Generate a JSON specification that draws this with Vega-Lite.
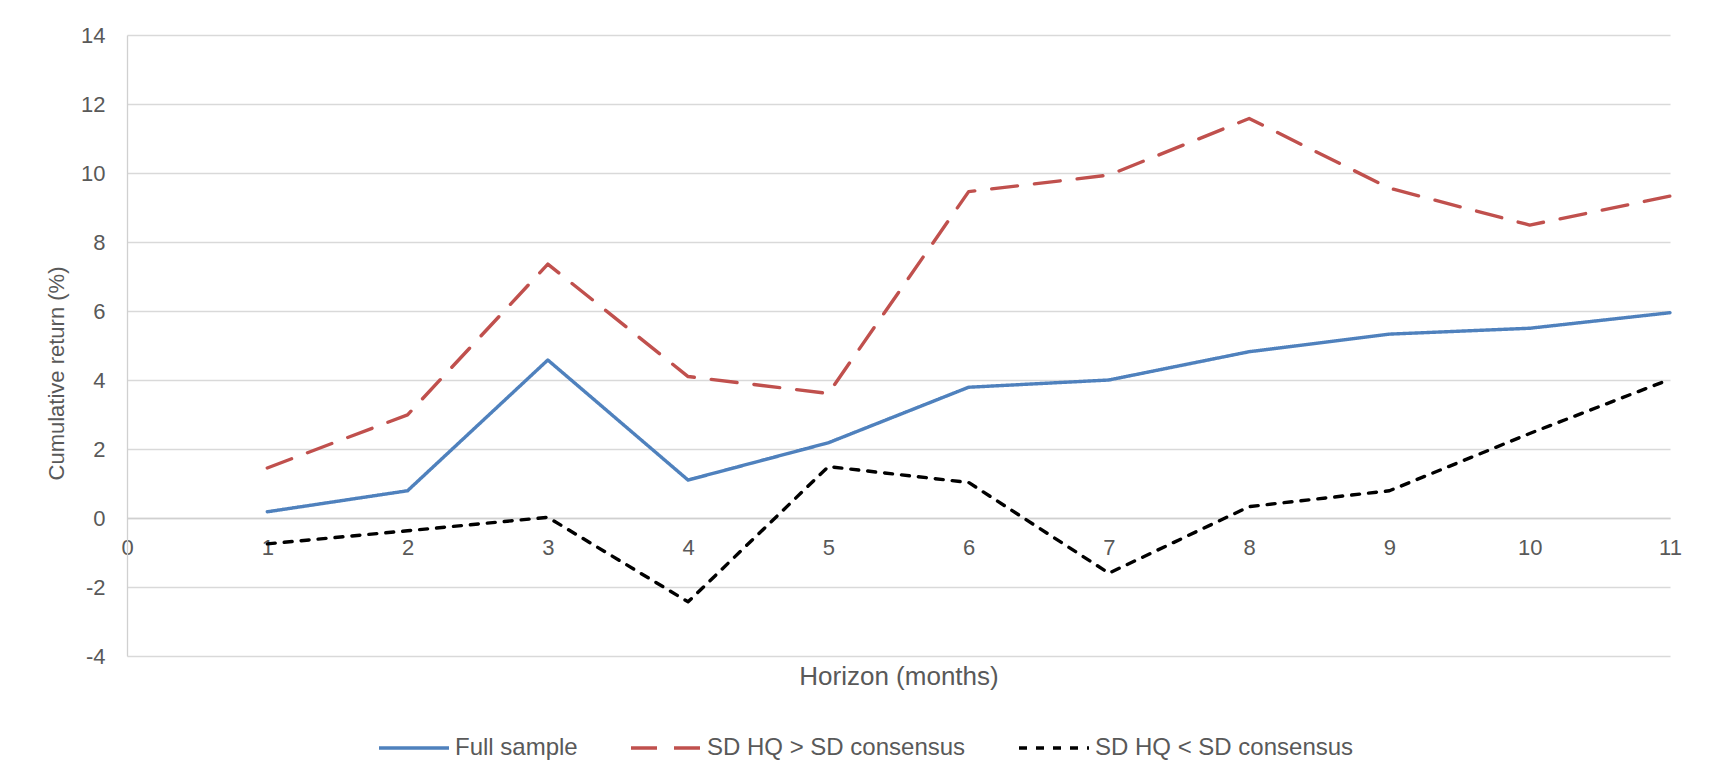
{
  "$schema": "https://vega.github.io/schema/vega-lite/v6.json",
  "autosize": "none",
  "width": 1543,
  "height": 621,
  "padding": {"left": 127, "top": 35, "right": 39, "bottom": 124},
  "background": "white",
  "config": {
    "font": "Liberation Sans",
    "view": {"stroke": null},
    "axis": {"labelColor": "#595959", "titleColor": "#595959", "titleFontWeight": "normal", "labelFont": "Liberation Sans", "titleFont": "Liberation Sans"},
    "legend": {"labelColor": "#595959", "labelFont": "Liberation Sans"}
  },
  "data": {
    "values": [
      {"h": 1, "series": "Full sample", "v": 0.18},
      {"h": 2, "series": "Full sample", "v": 0.79},
      {"h": 3, "series": "Full sample", "v": 4.58},
      {"h": 4, "series": "Full sample", "v": 1.1},
      {"h": 5, "series": "Full sample", "v": 2.18},
      {"h": 6, "series": "Full sample", "v": 3.79},
      {"h": 7, "series": "Full sample", "v": 4.0},
      {"h": 8, "series": "Full sample", "v": 4.82},
      {"h": 9, "series": "Full sample", "v": 5.33},
      {"h": 10, "series": "Full sample", "v": 5.5},
      {"h": 11, "series": "Full sample", "v": 5.95},
      {"h": 1, "series": "SD HQ > SD consensus", "v": 1.45},
      {"h": 2, "series": "SD HQ > SD consensus", "v": 2.99},
      {"h": 3, "series": "SD HQ > SD consensus", "v": 7.36},
      {"h": 4, "series": "SD HQ > SD consensus", "v": 4.1},
      {"h": 5, "series": "SD HQ > SD consensus", "v": 3.61},
      {"h": 6, "series": "SD HQ > SD consensus", "v": 9.46},
      {"h": 7, "series": "SD HQ > SD consensus", "v": 9.94},
      {"h": 8, "series": "SD HQ > SD consensus", "v": 11.58},
      {"h": 9, "series": "SD HQ > SD consensus", "v": 9.56},
      {"h": 10, "series": "SD HQ > SD consensus", "v": 8.49},
      {"h": 11, "series": "SD HQ > SD consensus", "v": 9.33},
      {"h": 1, "series": "SD HQ < SD consensus", "v": -0.75},
      {"h": 2, "series": "SD HQ < SD consensus", "v": -0.37},
      {"h": 3, "series": "SD HQ < SD consensus", "v": 0.02},
      {"h": 4, "series": "SD HQ < SD consensus", "v": -2.43},
      {"h": 5, "series": "SD HQ < SD consensus", "v": 1.49},
      {"h": 6, "series": "SD HQ < SD consensus", "v": 1.03},
      {"h": 7, "series": "SD HQ < SD consensus", "v": -1.6},
      {"h": 8, "series": "SD HQ < SD consensus", "v": 0.33},
      {"h": 9, "series": "SD HQ < SD consensus", "v": 0.79},
      {"h": 10, "series": "SD HQ < SD consensus", "v": 2.45},
      {"h": 11, "series": "SD HQ < SD consensus", "v": 4.02}
    ]
  },
  "mark": {"type": "line", "strokeWidth": 3.4, "strokeCap": "round", "strokeJoin": "round"},
  "encoding": {
    "x": {
      "field": "h", "type": "quantitative",
      "scale": {"domain": [0, 11], "nice": false, "zero": false},
      "axis": {
        "title": "Horizon (months)", "values": [0,1,2,3,4,5,6,7,8,9,10,11],
        "labelExpr": "'' + datum.value",
        "grid": false, "ticks": false, "tickSize": 0, "offset": -138,
        "domainColor": "#D0D0D0", "domainWidth": 1.3,
        "labelFontSize": 22, "labelPadding": 19, "labelAlign": "center", "labelBaseline": "top",
        "labelFlush": false, "labelOverlap": false, "labelBound": false,
        "titleFontSize": 26, "titleX": 771.5, "titleY": 158, "titleBaseline": "middle", "titleAlign": "center"
      }
    },
    "y": {
      "field": "v", "type": "quantitative",
      "scale": {"domain": [-4, 14], "nice": false, "zero": false},
      "axis": {
        "title": "Cumulative return (%)", "values": [-4,-2,0,2,4,6,8,10,12,14],
        "labelExpr": "'' + datum.value",
        "grid": true, "gridColor": "#D9D9D9", "gridWidth": 1.3,
        "ticks": false, "tickSize": 0,
        "domainColor": "#D0D0D0", "domainWidth": 1.3,
        "labelFontSize": 22, "labelPadding": 22,
        "titleFontSize": 22, "titleAngle": 270, "titleX": -71, "titleY": 338,
        "titleAlign": "center", "titleBaseline": "middle"
      }
    },
    "color": {
      "field": "series", "type": "nominal",
      "scale": {"domain": ["Full sample", "SD HQ > SD consensus", "SD HQ < SD consensus"], "range": ["#4F81BD", "#C0504D", "#000000"]},
      "legend": {
        "title": null, "orient": "none", "direction": "horizontal",
        "legendX": 250, "legendY": 676, "padding": 0,
        "symbolType": "stroke", "symbolSize": 4900, "symbolStrokeWidth": 3.5,
        "labelFontSize": 24, "labelOffset": 4, "labelLimit": 0, "columnPadding": 46
      }
    },
    "strokeDash": {
      "field": "series", "type": "nominal",
      "scale": {"domain": ["Full sample", "SD HQ > SD consensus", "SD HQ < SD consensus"], "range": [[1, 0], [26, 17], [8, 9]]},
      "legend": null
    }
  }
}
